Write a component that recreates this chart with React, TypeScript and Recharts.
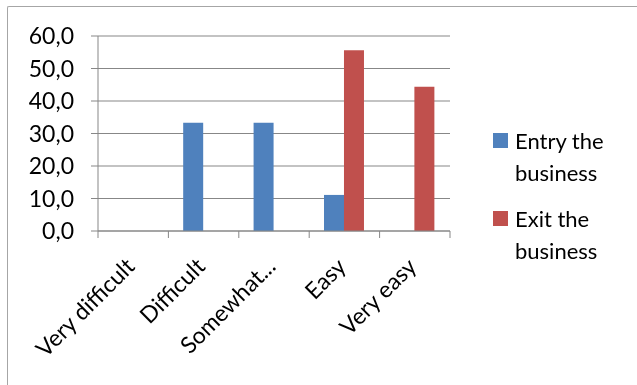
import { BarChart, Bar, XAxis, YAxis, CartesianGrid, Legend } from "recharts"

const categories = ["Very difficult", "Difficult", "Somewhat...", "Easy", "Very easy"]
const entryValues = [0, 33.3, 33.3, 11.1, 0]
const exitValues = [0, 0, 0, 55.6, 44.4]
const yTicks = [0, 10, 20, 30, 40, 50, 60]

const ENTRY = "Entry the business"
const EXIT = "Exit the business"

const data = categories.map((name, i) => ({
  name,
  entry: entryValues[i],
  exit: exitValues[i],
}))

const FONT = "Lato, 'Open Sans', sans-serif"
const GRID = "#878787"
const CHART_W = 622
const CHART_H = 372
const MARGIN = { top: 29, right: 0, bottom: 8, left: 0 }
const Y_W = 90
const LEGEND_W = 180
const BAND = (CHART_W - MARGIN.left - MARGIN.right - Y_W - LEGEND_W) / categories.length

// category labels run up at 45deg, tick marks sit on the band edges
const CategoryTick = ({ x, y, payload, index }: any) => {
  const last = index === categories.length - 1
  const tx = x + 3
  const ty = y + 30
  return (
    <g>
      <line x1={x - BAND / 2} x2={x - BAND / 2} y1={y - 7} y2={y} stroke={GRID} />
      {last && <line x1={x + BAND / 2} x2={x + BAND / 2} y1={y - 7} y2={y} stroke={GRID} />}
      <text
        x={tx}
        y={ty}
        transform={`rotate(-45, ${tx}, ${ty})`}
        textAnchor="end"
        fontSize={23}
        fontFamily={FONT}
        fill="#000"
      >
        {payload.value}
      </text>
    </g>
  )
}

const LegendBox = ({ payload }: any) => (
  <div style={{ width: LEGEND_W, paddingLeft: 43, boxSizing: "border-box", fontFamily: FONT, fontSize: 22, lineHeight: "32px", color: "#000", whiteSpace: "nowrap" }}>
    {(payload || []).map((p: any, i: number) => {
      const words = String(p.value).split(" ")
      return (
        <div key={p.value} style={{ position: "relative", paddingLeft: 22, marginTop: i === 0 ? 0 : 14 }}>
          <span style={{ position: "absolute", left: 0, top: 8, width: 15, height: 15, background: p.color }} />
          <div>{words.slice(0, -1).join(" ")}</div>
          <div>{words[words.length - 1]}</div>
        </div>
      )
    })}
  </div>
)

export default function App() {
  return (
    <div style={{ position: "fixed", left: 7, top: 6, width: CHART_W + 20, height: CHART_H + 20, borderTop: "1px solid #a6a6a6", borderLeft: "1px solid #a6a6a6", borderTopLeftRadius: 2 }}>
      <BarChart width={CHART_W} height={CHART_H} data={data} margin={MARGIN} barCategoryGap="21%" barGap={0}>
        <CartesianGrid vertical={false} stroke={GRID} />
        <XAxis
          dataKey="name"
          interval={0}
          height={140}
          tickLine={false}
          tickSize={7}
          tickMargin={0}
          axisLine={{ stroke: GRID }}
          tick={<CategoryTick />}
        />
        <YAxis
          width={Y_W}
          domain={[0, 60]}
          ticks={yTicks}
          interval={0}
          tickSize={7}
          tickMargin={17}
          axisLine={{ stroke: GRID }}
          tickLine={{ stroke: GRID }}
          tick={{ fontSize: 23, fontFamily: FONT, fill: "#000" }}
          tickFormatter={(v: number) => v.toFixed(1).replace(".", ",")}
        />
        <Legend layout="vertical" align="right" verticalAlign="top" wrapperStyle={{ top: 118 }} content={<LegendBox />} />
        <Bar dataKey="entry" name={ENTRY} fill="#4f81bd" isAnimationActive={false} />
        <Bar dataKey="exit" name={EXIT} fill="#c0504d" isAnimationActive={false} />
      </BarChart>
    </div>
  )
}
